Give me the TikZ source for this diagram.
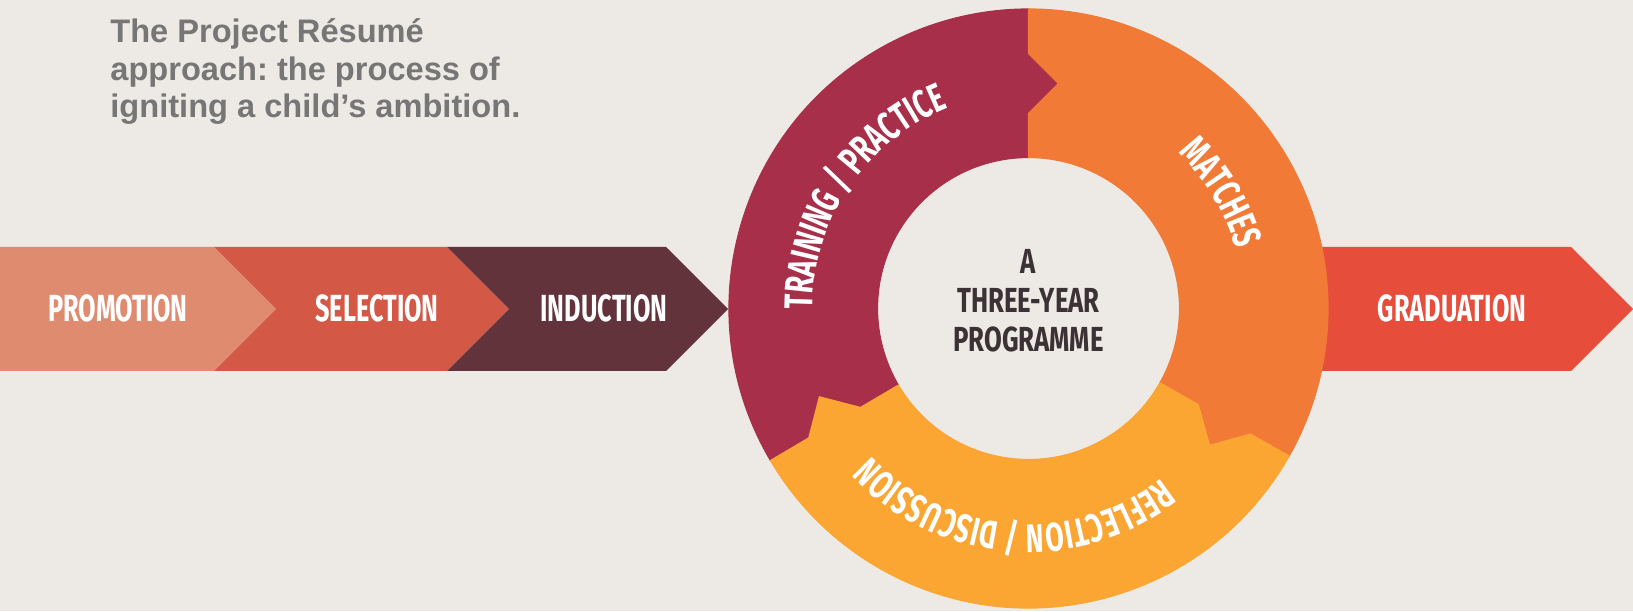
\documentclass[tikz,border=0pt]{standalone}
\usepackage{fontspec}
\usetikzlibrary{decorations.text}
\newfontfamily\titlefont{Liberation Sans}
\newfontfamily\bandfont{Fira Sans}[FakeStretch=0.67]
\newfontfamily\hubfont{Fira Sans}[FakeStretch=0.74]
\definecolor{paper}{HTML}{EDE9E4}
\definecolor{promo}{HTML}{DE8B6F}
\definecolor{select}{HTML}{D35846}
\definecolor{induct}{HTML}{63333C}
\definecolor{grad}{HTML}{E64D3B}
\definecolor{trainred}{HTML}{A82F49}
\definecolor{matchorange}{HTML}{F17A37}
\definecolor{reflectyellow}{HTML}{FBA633}
\definecolor{titlegray}{HTML}{767676}
\definecolor{hubgray}{HTML}{3A3234}
\newcommand{\curvefont}{\bandfont\bfseries\fontsize{20}{20}\selectfont\color{white}}
\tikzset{x=0.5pt,y=0.5pt,
  bandlabel/.style={anchor=base, inner sep=0pt, text=white,
    font=\bandfont\bfseries\fontsize{18.9}{20}\selectfont},
  hublabel/.style={anchor=base, inner sep=0pt, align=center, text=hubgray,
    font=\hubfont\bfseries\fontsize{17.4}{19.5}\selectfont},
  heading/.style={anchor=base west, inner sep=0pt, align=left, text=titlegray,
    font=\titlefont\bfseries\fontsize{16.3}{18.75}\selectfont\frenchspacing},
  ringtext/.style={decorate, decoration={text along path, text align=center, text={|\curvefont|#1}}}
}

\begin{document}
\begin{tikzpicture}
\fill[paper] (0,0) rectangle (1633,611);
\useasboundingbox (0,0) rectangle (1633,611);

% chevrons
\fill[promo] (0,364) -- (214,364) -- (276,302) -- (214,240) -- (0,240) -- cycle;
\fill[select] (214,364) -- (447,364) -- (509,302) -- (447,240) -- (214,240) -- (276,302) -- cycle;
\fill[induct] (447,364) -- (666,364) -- (728,302) -- (666,240) -- (447,240) -- (509,302) -- cycle;
\fill[grad] (1250,364) -- (1571,364) -- (1633,302) -- (1571,240) -- (1250,240) -- cycle;

\node[bandlabel] (promotion) at (118,289) {PROMOTION};
\node[bandlabel] (selection) at (377,289) {SELECTION};
\node[bandlabel] (induction) at (604,289) {INDUCTION};
\node[bandlabel] (graduation) at (1452,289) {GRADUATION};

% ring
\begin{scope}[shift={(1028.5,302.5)}]
\filldraw[trainred, line width=0.6pt] (210.5:299.5) arc[start angle=210.5, end angle=90, radius=299.5]
  -- (90:255) -- (82.4:227) -- (90:195) -- (90:151) arc[start angle=90, end angle=210.5, radius=151]
  -- (210.5:195) -- (202.9:227) -- (210.5:255) -- cycle;
\filldraw[matchorange, line width=0.6pt] (90:299.5) arc[start angle=90, end angle=-29.5, radius=299.5]
  -- (-29.5:255) -- (-37.1:227) -- (-29.5:195) -- (-29.5:151) arc[start angle=-29.5, end angle=90, radius=151]
  -- (90:195) -- (82.4:227) -- (90:255) -- cycle;
\filldraw[reflectyellow, line width=0.6pt] (-29.5:299.5) arc[start angle=-29.5, end angle=-149.5, radius=299.5]
  -- (-149.5:255) -- (-157.1:227) -- (-149.5:195) -- (-149.5:151) arc[start angle=-149.5, end angle=-29.5, radius=151]
  -- (-29.5:195) -- (-37.1:227) -- (-29.5:255) -- cycle;

\path[ringtext={TRAINING / PRACTICE}] (206:216) arc[start angle=206, end angle=86, radius=216];
\path[ringtext={MATCHES}] (91:216) arc[start angle=91, end angle=-29, radius=216];
\path[ringtext={REFLECTION / DISCUSSION}] (-34.5:216) arc[start angle=-34.5, end angle=-154.5, radius=216];

\node[hublabel] (programme) at (0,-43.5) {A\\THREE-YEAR\\PROGRAMME};
\end{scope}

\node[heading] (caption) at (110,493) {The Project Résumé\\approach: the process of\\igniting a child’s ambition.};
\end{tikzpicture}
\end{document}
